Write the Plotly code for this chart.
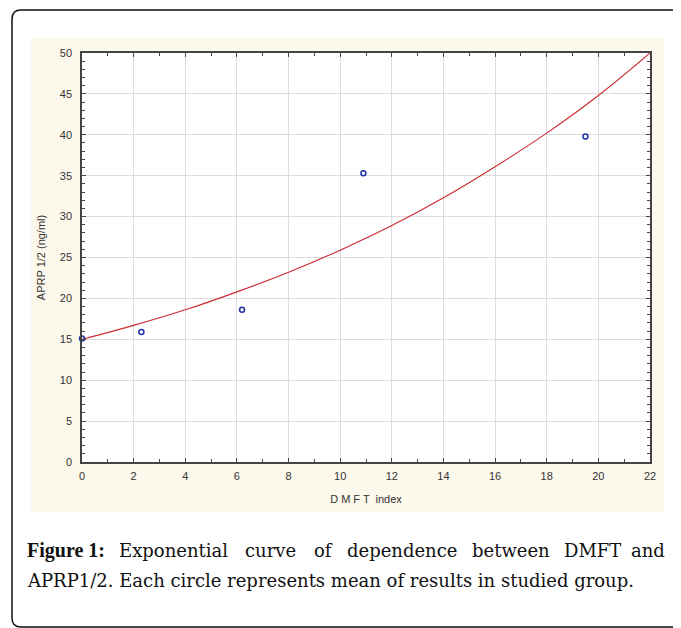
import plotly.graph_objects as go

# ---- data ----
dmft_index = [0.0, 2.3, 6.2, 10.9, 19.5]
aprp_mean = [15.1, 15.9, 18.6, 35.3, 39.8]

curve_x = [0, 2, 4, 6, 8, 10, 12, 14, 16, 18, 20, 22]
curve_y = [15.0, 16.7, 18.6, 20.8, 23.2, 25.9, 28.9, 32.3, 36.1, 40.2, 44.8, 50.0]

x_ticks = [0, 2, 4, 6, 8, 10, 12, 14, 16, 18, 20, 22]
y_ticks = [0, 5, 10, 15, 20, 25, 30, 35, 40, 45, 50]

caption_label = "Figure 1:"
caption_line1 = ["Exponential", "curve", "of", "dependence", "between", "DMFT", "and"]
caption_line2 = "APRP1/2. Each circle represents mean of results in studied group."

# ---- layout geometry (reference pixels); page body adds an 8px offset ----
OFF = 8
W, H = 681, 628
PL, PR, PT, PB = 82, 650, 53, 462


def px(x):
    return (x - PL) / (PR - PL)


def py(y):
    return (PB - y) / (PB - PT)


fig = go.Figure()

fig.add_trace(go.Scatter(
    x=curve_x, y=curve_y, mode="lines", line=dict(color="#cc2a30", width=1.1, shape="spline"),
    hoverinfo="skip", showlegend=False))

fig.add_trace(go.Scatter(
    x=dmft_index, y=aprp_mean, mode="markers",
    marker=dict(symbol="circle-open", size=5, color="#2233a8", line=dict(width=1.5)),
    showlegend=False, cliponaxis=False))

shapes = []
# cream panel
shapes.append(dict(type="rect", xref="paper", yref="paper", layer="below",
                   x0=px(31), x1=px(664), y0=py(512), y1=py(38),
                   fillcolor="#fdf8ec", line=dict(width=0)))
# white plot area
shapes.append(dict(type="rect", xref="paper", yref="paper", layer="below",
                   x0=0, x1=1, y0=0, y1=1, fillcolor="white", line=dict(width=0)))
# rounded outer frame (open on the right, runs off the page)
r = 9
L, T, R, B = 12, 10, 720, 627
path = (f"M {px(R)},{py(T)} L {px(L + r)},{py(T)} "
        f"Q {px(L)},{py(T)} {px(L)},{py(T + r)} "
        f"L {px(L)},{py(B - r)} Q {px(L)},{py(B)} {px(L + r)},{py(B)} L {px(R)},{py(B)}")
shapes.append(dict(type="path", xref="paper", yref="paper", path=path,
                   line=dict(color="#111111", width=1.5), layer="above"))

serif = dict(family="DejaVu Serif", size=18, color="#111111")
annotations = []
annotations.append(dict(text="<b>" + caption_label + "</b>", xref="paper", yref="paper",
                        x=px(25), y=py(550), xanchor="left", yanchor="middle", showarrow=False,
                        font=dict(family="Liberation Serif", size=20, color="#111111")))
word_left = [117, 243, 312, 345, 470, 562]
for w, xl in zip(caption_line1[:-1], word_left):
    annotations.append(dict(text=w, xref="paper", yref="paper", x=px(xl), y=py(550),
                            xanchor="left", yanchor="middle", showarrow=False, font=serif))
annotations.append(dict(text=caption_line1[-1], xref="paper", yref="paper", x=px(667), y=py(550),
                        xanchor="right", yanchor="middle", showarrow=False, font=serif))
annotations.append(dict(text=caption_line2, xref="paper", yref="paper", x=px(25), y=py(580),
                        xanchor="left", yanchor="middle", showarrow=False, font=serif))

axis_font = dict(family="Liberation Sans", size=11, color="#333333")

fig.update_layout(
    width=W, height=H,
    margin=dict(l=PL - OFF, r=W - (PR - OFF), t=PT - OFF, b=H - (PB - OFF), pad=0),
    paper_bgcolor="white", plot_bgcolor="rgba(0,0,0,0)",
    shapes=shapes, annotations=annotations,
    xaxis=dict(range=[0, 22], tickvals=x_ticks, ticktext=[str(v) for v in x_ticks],
               showgrid=True, gridcolor="#dcdcdc", gridwidth=1, zeroline=False,
               showline=True, linecolor="#444444", linewidth=1.5, mirror="ticks",
               ticks="inside", ticklen=4, tickcolor="#444444", ticklabelstandoff=3,
               minor=dict(dtick=1, ticks="inside", ticklen=3, tickcolor="#444444", showgrid=False),
               tickfont=axis_font,
               title=dict(text="D M F T  index", font=axis_font, standoff=14)),
    yaxis=dict(range=[0, 50], tickvals=y_ticks, ticktext=[str(v) for v in y_ticks],
               showgrid=True, gridcolor="#dcdcdc", gridwidth=1, zeroline=False,
               showline=True, linecolor="#444444", linewidth=1.5, mirror="ticks",
               ticks="inside", ticklen=4, tickcolor="#444444", ticklabelstandoff=6,
               minor=dict(dtick=1, ticks="inside", ticklen=3, tickcolor="#444444", showgrid=False),
               tickfont=axis_font,
               title=dict(text="APRP 1/2 (ng/ml)", font=axis_font, standoff=12)),
)

fig.write_html("out.html")
